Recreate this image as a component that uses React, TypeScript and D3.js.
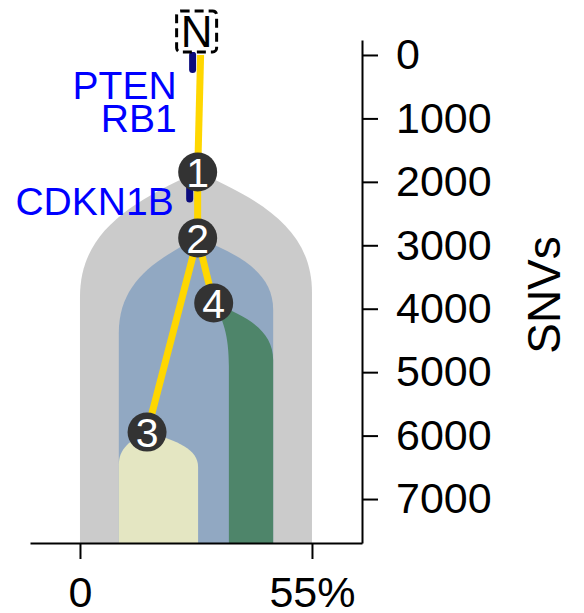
import React, { useEffect, useRef } from 'react';
import * as d3 from 'd3';

const width = 584;
const height = 613;

// tree nodes: SNV depth and horizontal position (% of cells)
const nodeIds = ['N', '1', '2', '3', '4'];
const nodeSNVs = [0, 1845, 2885, 5945, 3910];
const nodePct = [28.6, 27.9, 27.9, 15.9, 31.7];
const edgeFrom = ['N', '1', '2', '2'];
const edgeTo = ['1', '2', '3', '4'];

// fish plot clones, in drawing order
const cloneNodes = ['1', '2', '3', '4'];
const cloneLeft = [0, 9.2, 9.2, 35.3];
const cloneRight = [55, 45.8, 28, 45.8];
const cloneColors = ['#cbcbcb', '#91a8c2', '#e4e6c2', '#4e856a'];
// SNVs below the apex before the left / right edge turns vertical
const cloneRiseLeft = [1970, 1500, 520, 1000];
const cloneRiseRight = [1900, 1135, 550, 900];

// driver mutations on the branches
const driverGenes = [['PTEN', 'RB1'], ['CDKN1B']];
const driverFrom = [0, 1845];
const driverTo = [230, 2270];
const driverLabelSNV = [700, 2520];

const yTicks = [0, 1000, 2000, 3000, 4000, 5000, 6000, 7000];
const xTicks = [0, 55];
const xTickLabels = ['0', '55%'];

const FONT = '"Liberation Sans", Arial, Helvetica, sans-serif';

const App: React.FC = () => {
  const ref = useRef<SVGSVGElement | null>(null);

  useEffect(() => {
    if (!ref.current) return;
    const svg = d3.select<SVGSVGElement, unknown>(ref.current);
    svg.selectAll('*').remove();

    const x = d3.scaleLinear().domain([-11.85, 66.86]).range([30, 362]);
    const y = d3.scaleLinear().domain([-236, 7693]).range([40, 543]);
    const bottom = y.range()[1];

    const nodeX = (id: string) => x(nodePct[nodeIds.indexOf(id)]);
    const nodeY = (id: string) => y(nodeSNVs[nodeIds.indexOf(id)]);

    // fish shapes
    const dome = (i: number) => {
      const ax = nodeX(cloneNodes[i]);
      const ay = nodeY(cloneNodes[i]);
      const lx = x(cloneLeft[i]);
      const rx = x(cloneRight[i]);
      const hl = y(cloneRiseLeft[i]) - y(0);
      const hr = y(cloneRiseRight[i]) - y(0);
      const p = d3.path();
      p.moveTo(ax, ay);
      p.bezierCurveTo(ax + (lx - ax) * 0.6, ay + hl * 0.25, lx, ay + hl * 0.5, lx, ay + hl);
      p.lineTo(lx, bottom);
      p.lineTo(rx, bottom);
      p.lineTo(rx, ay + hr);
      p.bezierCurveTo(rx, ay + hr * 0.5, ax + (rx - ax) * 0.6, ay + hr * 0.25, ax, ay);
      p.closePath();
      return p.toString();
    };

    svg
      .append('g')
      .selectAll('path')
      .data(cloneNodes.map((_d, i) => i))
      .enter()
      .append('path')
      .attr('d', (i: number) => dome(i))
      .attr('fill', (i: number) => cloneColors[i]);

    // driver bars + labels
    driverGenes.forEach((genes, i) => {
      const bx = nodeX(i === 0 ? 'N' : '1') - 8;
      svg
        .append('line')
        .attr('x1', bx)
        .attr('x2', bx)
        .attr('y1', y(driverFrom[i]))
        .attr('y2', y(driverTo[i]))
        .attr('stroke', '#0b0b7d')
        .attr('stroke-width', 7)
        .attr('stroke-linecap', 'round');
      genes.forEach((g, j) => {
        svg
          .append('text')
          .attr('x', bx - 16)
          .attr('y', y(driverLabelSNV[i]) + j * 33)
          .attr('text-anchor', 'end')
          .attr('font-family', FONT)
          .attr('font-size', 39)
          .attr('fill', '#0000ff')
          .text(g);
      });
    });

    // tree edges
    svg
      .append('g')
      .selectAll('line')
      .data(edgeFrom.map((_d, i) => i))
      .enter()
      .append('line')
      .attr('x1', (i: number) => nodeX(edgeFrom[i]))
      .attr('y1', (i: number) => nodeY(edgeFrom[i]))
      .attr('x2', (i: number) => nodeX(edgeTo[i]))
      .attr('y2', (i: number) => nodeY(edgeTo[i]))
      .attr('stroke', '#ffd700')
      .attr('stroke-width', 7);

    // normal node box
    const nx = nodeX('N') - 4;
    const ny = nodeY('N');
    svg
      .append('rect')
      .attr('x', nx - 20)
      .attr('y', ny - 44)
      .attr('width', 40)
      .attr('height', 41)
      .attr('rx', 4)
      .attr('fill', '#ffffff')
      .attr('stroke', '#000000')
      .attr('stroke-width', 3)
      .attr('stroke-dasharray', '9,5');
    svg
      .append('text')
      .attr('x', nx)
      .attr('y', ny - 8)
      .attr('text-anchor', 'middle')
      .attr('font-family', FONT)
      .attr('font-size', 44)
      .attr('fill', '#000000')
      .text('N');

    // clone nodes
    const nodes = svg
      .append('g')
      .selectAll('g')
      .data(nodeIds.filter((d) => d !== 'N'))
      .enter()
      .append('g')
      .attr('transform', (d: string) => `translate(${nodeX(d)},${nodeY(d)})`);
    nodes.append('circle').attr('r', 19.5).attr('fill', '#333333');
    nodes
      .append('text')
      .attr('text-anchor', 'middle')
      .attr('dy', '0.36em')
      .attr('font-family', FONT)
      .attr('font-size', 41)
      .attr('fill', '#ffffff')
      .text((d: string) => d);

    // axes
    const yAxis = svg
      .append('g')
      .attr('transform', `translate(${x.range()[1]},0)`)
      .call(d3.axisRight(y).tickValues(yTicks).tickSize(16).tickSizeOuter(0).tickPadding(18).tickFormat(d3.format('d')));
    const xAxis = svg
      .append('g')
      .attr('transform', `translate(0,${bottom})`)
      .call(
        d3
          .axisBottom(x)
          .tickValues(xTicks)
          .tickSize(16)
          .tickSizeOuter(0)
          .tickPadding(17)
          .tickFormat((_d: any, i: number) => xTickLabels[i])
      );
    [yAxis, xAxis].forEach((a) => {
      a.selectAll('path, line').attr('stroke', '#000000').attr('stroke-width', 2);
      a.selectAll('text').attr('font-family', FONT).attr('font-size', 43).attr('fill', '#000000');
    });

    svg
      .append('text')
      .attr('transform', `translate(560,295) rotate(-90)`)
      .attr('text-anchor', 'middle')
      .attr('font-family', FONT)
      .attr('font-size', 46)
      .attr('fill', '#000000')
      .text('SNVs');
  }, []);

  return (
    <div style={{ position: 'absolute', left: 0, top: 0 }}>
      <svg ref={ref} width={width} height={height} style={{ display: 'block', background: '#ffffff' }} />
    </div>
  );
};

export default App;
